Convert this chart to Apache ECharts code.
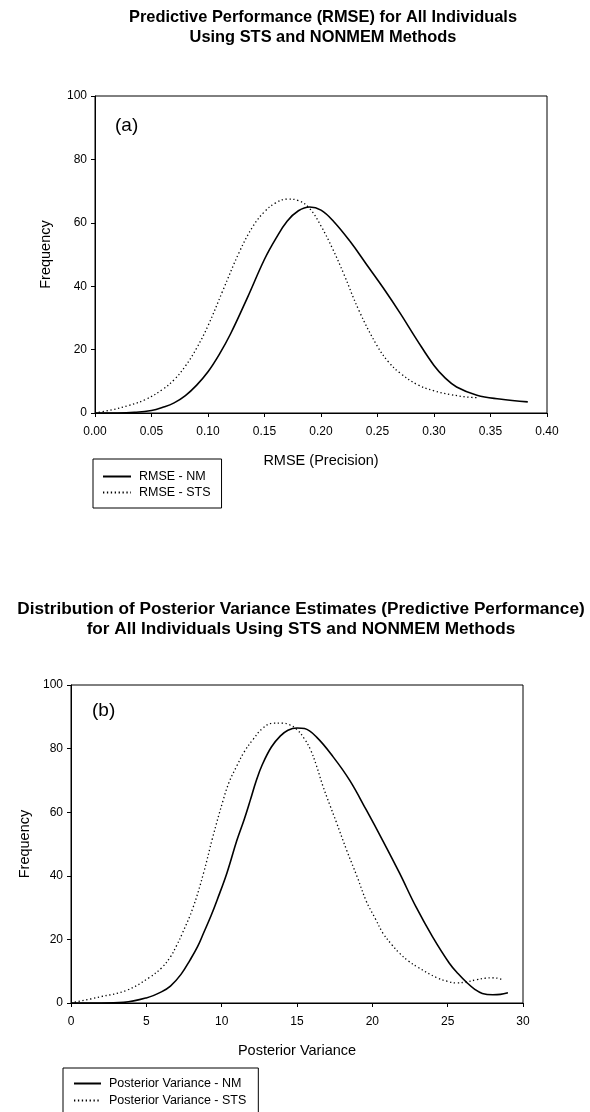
<!DOCTYPE html>
<html>
<head>
    <meta charset="utf-8">
    <title>Predictive Performance (RMSE) and Posterior Variance</title>
    <script src="https://cdn.jsdelivr.net/npm/echarts@6/dist/echarts.min.js"></script>
    <style>
        html, body { margin: 0; padding: 0; background: #fff; }
        #main { width: 590px; height: 1112px; }
    </style>
</head>
<body>
    <div id="main"></div>
    <script>
        // panel (a): RMSE distribution, [RMSE, frequency]
        const rmseNM = [
            [0, 0], [0.02, 0], [0.035, 0.2], [0.05, 0.8], [0.06, 1.8], [0.07, 3.2], [0.08, 5.5],
            [0.09, 8.8], [0.1, 13], [0.11, 18.5], [0.12, 25], [0.135, 36.5], [0.15, 48.5],
            [0.16, 55], [0.17, 60.5], [0.18, 63.8], [0.19, 65], [0.2, 64], [0.211, 60.5],
            [0.226, 54], [0.24, 47], [0.255, 39.5], [0.27, 31.5], [0.285, 23], [0.3, 15],
            [0.31, 11], [0.32, 8.2], [0.338, 5.6], [0.358, 4.4], [0.383, 3.5]
        ];
        const rmseSTS = [
            [0, 0], [0.015, 1], [0.03, 2.4], [0.045, 4.3], [0.06, 7.5], [0.07, 10.5], [0.08, 14.8],
            [0.09, 20.5], [0.1, 27.5], [0.113, 38.5], [0.128, 51], [0.14, 59], [0.15, 63.5],
            [0.16, 66.3], [0.17, 67.5], [0.18, 67], [0.19, 64.5], [0.2, 59], [0.21, 52],
            [0.22, 44], [0.234, 32], [0.25, 21], [0.26, 16], [0.27, 12.6], [0.285, 9],
            [0.3, 7], [0.315, 5.8], [0.33, 5], [0.34, 4.8]
        ];
        // panel (b): posterior variance distribution, [variance, frequency]
        const pvNM = [
            [0, 0], [2, 0], [3.5, 0.2], [5, 1.6], [6, 3.5], [6.6, 5.3], [7.3, 9], [7.9, 13.5],
            [8.4, 17.7], [8.8, 22], [9.3, 27.5], [9.7, 32.4], [10.35, 40.9], [11, 51], [11.5, 57.8],
            [11.9, 63.8], [12.3, 70], [12.7, 75], [13.3, 80.5], [13.9, 84], [14.4, 85.8], [15, 86.5],
            [15.5, 86.3], [16.3, 83.6], [17.4, 77.4], [18.5, 70], [19.6, 60.7], [20.7, 51],
            [21.8, 40.9], [22.9, 30.2], [24, 20.8], [25.1, 12.6], [25.7, 9.2], [26.3, 6.3],
            [26.8, 4.3], [27.3, 3], [28, 2.6], [28.5, 2.7], [29, 3.2]
        ];
        const pvSTS = [
            [0, 0], [1.9, 1.9], [3.7, 4], [5.2, 8], [6, 11], [6.6, 14.5], [7, 18], [7.4, 22],
            [8.1, 30], [8.8, 40.9], [9.4, 52], [10.1, 63.8], [10.5, 69.5], [11, 74.5], [11.5, 79],
            [12.1, 83], [12.7, 86.3], [13.4, 88], [14, 88], [14.5, 87.5], [15, 86], [15.5, 83],
            [15.9, 79.6], [16.3, 74.5], [16.7, 68.5], [17.2, 62], [17.6, 57], [18.3, 48],
            [19, 39.6], [19.6, 32], [20.2, 26.5], [20.7, 22], [21.3, 18.3], [21.8, 15.7],
            [22.4, 13.2], [23, 11.3], [24.3, 7.9], [25, 6.8], [25.6, 6.3], [26.2, 6.6],
            [26.9, 7.3], [27.5, 7.8], [28, 7.9], [28.4, 7.7], [28.7, 7.2]
        ];

        const titleA = 'Predictive Performance (RMSE) for All Individuals\nUsing STS and NONMEM Methods';
        const titleB = 'Distribution of Posterior Variance Estimates (Predictive Performance)\nfor All Individuals Using STS and NONMEM Methods';

        const FONT = '"Liberation Sans", Arial, sans-serif';
        const chart = echarts.init(document.getElementById('main'));

        function xAxisOf(idx, min, max, step, name, fmt) {
            return {
                type: 'value', gridIndex: idx, min: min, max: max, interval: step,
                name: name, nameLocation: 'middle', nameGap: 40,
                nameTextStyle: { color: '#000', fontSize: 14.5, fontFamily: FONT },
                axisLine: { lineStyle: { color: '#000', width: 1 } },
                axisTick: { show: true, length: 4, lineStyle: { color: '#000' } },
                axisLabel: { color: '#000', fontSize: 12, fontFamily: FONT, margin: 13, formatter: fmt },
                splitLine: { show: false }
            };
        }
        function yAxisOf(idx, gap) {
            return {
                type: 'value', gridIndex: idx, min: 0, max: 100, interval: 20,
                name: 'Frequency', nameLocation: 'middle', nameGap: gap,
                nameTextStyle: { color: '#000', fontSize: 14.5, fontFamily: FONT },
                axisLine: { show: true, lineStyle: { color: '#000', width: 1 } },
                axisTick: { show: true, length: 4, lineStyle: { color: '#000' } },
                axisLabel: { color: '#000', fontSize: 12, fontFamily: FONT, margin: 8 },
                splitLine: { show: false }
            };
        }
        function lineOf(name, data, idx, dotted) {
            return {
                name: name, type: 'line', data: data, xAxisIndex: idx, yAxisIndex: idx,
                smooth: 0.4, showSymbol: false, symbol: 'none', silent: true,
                lineStyle: dotted
                    ? { color: '#000', width: 1.3, type: [1.3, 2.6] }
                    : { color: '#000', width: 1.6 },
                itemStyle: { color: '#000' }
            };
        }
        function legendOf(names, left, top, pad, gap, w) {
            return {
                data: names, orient: 'vertical', left: left, top: top, height: 80,
                padding: pad, itemGap: gap, itemWidth: w, itemHeight: 10,
                borderColor: '#000', borderWidth: 1, selectedMode: false,
                itemStyle: { opacity: 0 },
                textStyle: { fontSize: 12.5, color: '#000', fontFamily: FONT, padding: [0, 0, 0, 3] }
            };
        }

        chart.setOption({
            backgroundColor: '#fff',
            animation: false,
            title: [
                { text: titleA, left: 323, top: 7, padding: 0, textAlign: 'center',
                  textStyle: { fontSize: 16.4, fontWeight: 'bold', color: '#000', lineHeight: 20, fontFamily: FONT } },
                { text: titleB, left: 301, top: 599, padding: 0, textAlign: 'center',
                  textStyle: { fontSize: 17.2, fontWeight: 'bold', color: '#000', lineHeight: 20, fontFamily: FONT } },
                { text: '(a)', left: 115, top: 116, padding: 0,
                  textStyle: { fontSize: 19, fontWeight: 'normal', color: '#000', fontFamily: FONT } },
                { text: '(b)', left: 92, top: 701, padding: 0,
                  textStyle: { fontSize: 19, fontWeight: 'normal', color: '#000', fontFamily: FONT } }
            ],
            legend: [
                legendOf(['RMSE - NM', 'RMSE - STS'], 93, 459, [11, 11, 9, 9], 3, 28),
                legendOf(['Posterior Variance - NM', 'Posterior Variance - STS'], 63, 1068, [9, 12, 14, 10], 4, 27)
            ],
            grid: [
                { left: 95, top: 96, width: 452, height: 317, show: true, borderColor: '#000', borderWidth: 1, backgroundColor: '#fff' },
                { left: 71, top: 685, width: 452, height: 318, show: true, borderColor: '#000', borderWidth: 1, backgroundColor: '#fff' }
            ],
            xAxis: [
                xAxisOf(0, 0, 0.4, 0.05, 'RMSE (Precision)', v => v.toFixed(2)),
                xAxisOf(1, 0, 30, 5, 'Posterior Variance', v => String(v))
            ],
            yAxis: [yAxisOf(0, 42), yAxisOf(1, 36)],
            series: [
                lineOf('RMSE - NM', rmseNM, 0, false),
                lineOf('RMSE - STS', rmseSTS, 0, true),
                lineOf('Posterior Variance - NM', pvNM, 1, false),
                lineOf('Posterior Variance - STS', pvSTS, 1, true)
            ]
        });

        window.addEventListener('resize', function () { chart.resize(); });
    </script>
</body>
</html>
